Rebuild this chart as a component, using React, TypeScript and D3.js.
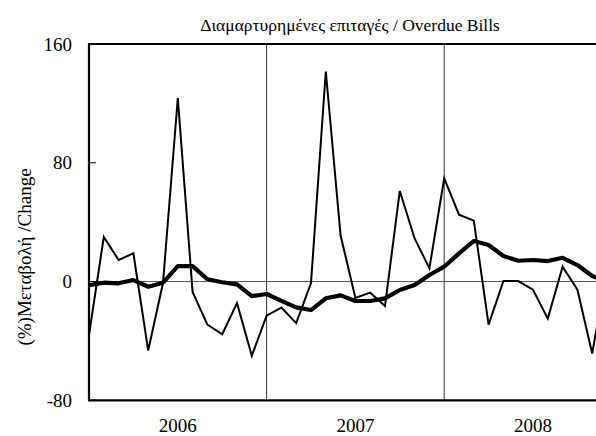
import React from "react";
import * as d3 from "d3";

const title = "Διαμαρτυρημένες επιταγές / Overdue Bills";
const yLabel = "(%)Μεταβολή /Change";
const yTicks = [-80, 0, 80, 160];
const years = ["2006", "2007", "2008"];
const monthly = [
  -36, 30, 14.5, 19, -46.5, -1, 123.5, -7, -29, -35.5, -14.5, -50,
  -23, -17.5, -28, -1, 141.5, 31, -11, -7.5, -16.5, 61, 29, 9,
  69.5, 45, 41, -29, 0.3, 0.3, -5.5, -25, 10, -5.5, -48.5, 8,
];
const moving = [
  -2.4, -0.8, -1.2, 1, -3.5, -0.8, 10.4, 10.4, 1.5, -0.5, -1.9, -9.8,
  -8.4, -13, -17.4, -19.2, -11.3, -9.3, -13.1, -13.1, -11.3, -5.7, -2.4, 4.4,
  10, 19, 27.3, 24.6, 17.2, 14, 14.5, 13.8, 16, 11.1, 3.7, 0,
];

const W = 596;
const H = 436;
const left = 89;
const top = 44;
const bottom = 400.3;
const step = 14.8;

export default function App() {
  const x = d3.scaleLinear().domain([0, 36]).range([left, left + step * 36]);
  const y = d3.scaleLinear().domain([-80, 160]).range([bottom, top]);
  const line = d3
    .line<number>()
    .x((_, i) => x(i))
    .y((d) => y(d));
  const font = '"Liberation Serif", "DejaVu Serif", serif';
  const right = x(36);
  return (
    <svg
      width={W}
      height={H}
      style={{ position: "absolute", left: 0, top: 0, background: "#fff", fontFamily: font }}
    >
      <defs>
        <clipPath id="clip">
          <rect x={0} y={0} width={W} height={H} />
        </clipPath>
      </defs>
      <text x={350} y={31} textAnchor="middle" fontSize={17.5} fill="#000" style={{ fontFamily: font }}>
        {title}
      </text>
      <g clipPath="url(#clip)">
        <line x1={left} x2={right} y1={y(0)} y2={y(0)} stroke="#555" strokeWidth={1} />
        {[12, 24].map((i) => (
          <line key={i} x1={x(i)} x2={x(i)} y1={top} y2={bottom} stroke="#333" strokeWidth={1} />
        ))}
        <path d={line(monthly) || ""} fill="none" stroke="#000" strokeWidth={2} strokeLinejoin="miter" />
        <path d={line(moving) || ""} fill="none" stroke="#000" strokeWidth={4.2} strokeLinejoin="round" />
        <line x1={left} x2={right} y1={top} y2={top} stroke="#000" strokeWidth={2.2} />
        <line x1={left} x2={right} y1={bottom} y2={bottom} stroke="#000" strokeWidth={2.2} />
        <line x1={left} x2={left} y1={top - 1} y2={bottom + 1} stroke="#000" strokeWidth={2.2} />
        <line x1={right} x2={right} y1={top} y2={bottom} stroke="#000" strokeWidth={2.2} />
        {yTicks.map((t) => (
          <line key={t} x1={left} x2={left + 7} y1={y(t)} y2={y(t)} stroke="#000" strokeWidth={1} />
        ))}
      </g>
      {yTicks.map((t) => (
        <text key={t} x={72} y={y(t) + 6.5} textAnchor="end" fontSize={19} fill="#000" style={{ fontFamily: font }}>
          {t}
        </text>
      ))}
      {years.map((yr, k) => (
        <text key={yr} x={x(6 + 12 * k)} y={432} textAnchor="middle" fontSize={19} fill="#000" style={{ fontFamily: font }}>
          {yr}
        </text>
      ))}
      <text
        transform={`translate(31, 257) rotate(-90)`}
        textAnchor="middle"
        fontSize={19}
        fill="#000"
        style={{ fontFamily: font }}
      >
        {yLabel}
      </text>
    </svg>
  );
}
